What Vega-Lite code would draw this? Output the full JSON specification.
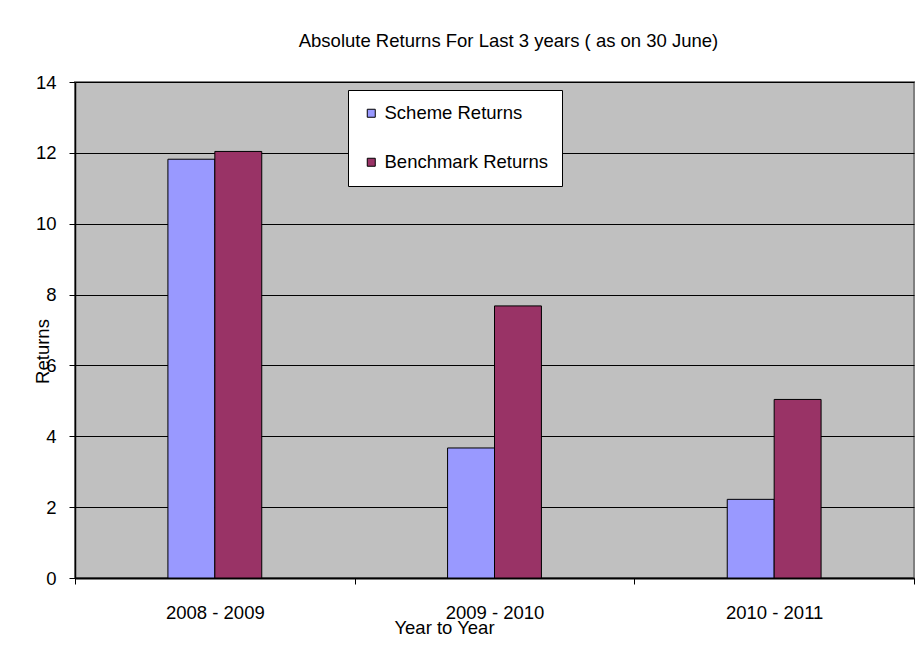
{
  "$schema": "https://vega.github.io/schema/vega-lite/v6.json",
  "autosize": {"type": "none"},
  "width": 839,
  "height": 496,
  "padding": {"left": 75, "top": 82, "right": 1, "bottom": 78},
  "background": "white",
  "title": {
    "text": "Absolute Returns For Last 3 years ( as on 30 June)",
    "font": "Liberation Sans",
    "fontSize": 18.5,
    "fontWeight": "normal",
    "color": "black",
    "anchor": "middle",
    "dx": 14,
    "offset": 23
  },
  "data": {
    "values": [
      {"year": "2008 - 2009", "series": "Scheme Returns", "value": 11.82},
      {"year": "2008 - 2009", "series": "Benchmark Returns", "value": 12.04},
      {"year": "2009 - 2010", "series": "Scheme Returns", "value": 3.67},
      {"year": "2009 - 2010", "series": "Benchmark Returns", "value": 7.68},
      {"year": "2010 - 2011", "series": "Scheme Returns", "value": 2.22},
      {"year": "2010 - 2011", "series": "Benchmark Returns", "value": 5.04}
    ]
  },
  "mark": {"type": "bar", "stroke": "black", "strokeWidth": 1},
  "encoding": {
    "x": {
      "field": "year",
      "type": "nominal",
      "sort": null,
      "scale": {"paddingInner": 0, "paddingOuter": 0},
      "axis": {
        "title": "Year to Year",
        "labelAngle": 0,
        "tickBand": "extent",
        "tickSize": 6,
        "tickColor": "black",
        "domainColor": "black",
        "domainWidth": 2,
        "labelPadding": 19,
        "labelFont": "Liberation Sans",
        "labelFontSize": 18.5,
        "labelColor": "black",
        "titleFont": "Liberation Sans",
        "titleFontSize": 18.5,
        "titleFontWeight": "normal",
        "titleColor": "black",
        "titleX": 369,
        "titleY": 49,
        "titleBaseline": "middle",
        "titleAnchor": null,
        "grid": false
      }
    },
    "xOffset": {
      "field": "series",
      "type": "nominal",
      "scale": {"domain": ["_a", "Scheme Returns", "Benchmark Returns", "_b"], "paddingInner": 0, "paddingOuter": 0.98}
    },
    "y": {
      "field": "value",
      "type": "quantitative",
      "scale": {"domain": [0, 14], "nice": false},
      "axis": {
        "title": "Returns",
        "values": [0, 2, 4, 6, 8, 10, 12, 14],
        "grid": true,
        "gridColor": "black",
        "gridWidth": 1,
        "gridOpacity": 1,
        "tickSize": 6,
        "tickColor": "black",
        "domainColor": "black",
        "domainWidth": 1.5,
        "labelPadding": 13,
        "labelFont": "Liberation Sans",
        "labelFontSize": 18.5,
        "labelColor": "black",
        "titleFont": "Liberation Sans",
        "titleFontSize": 18.5,
        "titleFontWeight": "normal",
        "titleColor": "black",
        "titleAngle": -90,
        "titleX": -33,
        "titleY": 269,
        "titleBaseline": "middle",
        "titleAnchor": null
      }
    },
    "color": {
      "field": "series",
      "type": "nominal",
      "scale": {"domain": ["Scheme Returns", "Benchmark Returns"], "range": ["#9999FF", "#993366"]},
      "legend": {
        "title": null,
        "orient": "none",
        "legendX": 273,
        "legendY": 8,
        "fillColor": "white",
        "strokeColor": "black",
        "padding": 14,
        "symbolType": "square",
        "symbolSize": 64,
        "symbolStrokeColor": "black",
        "symbolStrokeWidth": 1,
        "labelFont": "Liberation Sans",
        "labelFontSize": 18.5,
        "labelColor": "black",
        "labelOffset": 4,
        "labelLimit": 400,
        "rowPadding": 30
      }
    }
  },
  "config": {
    "view": {"fill": "#C0C0C0", "stroke": "#808080", "strokeWidth": 2}
  }
}
